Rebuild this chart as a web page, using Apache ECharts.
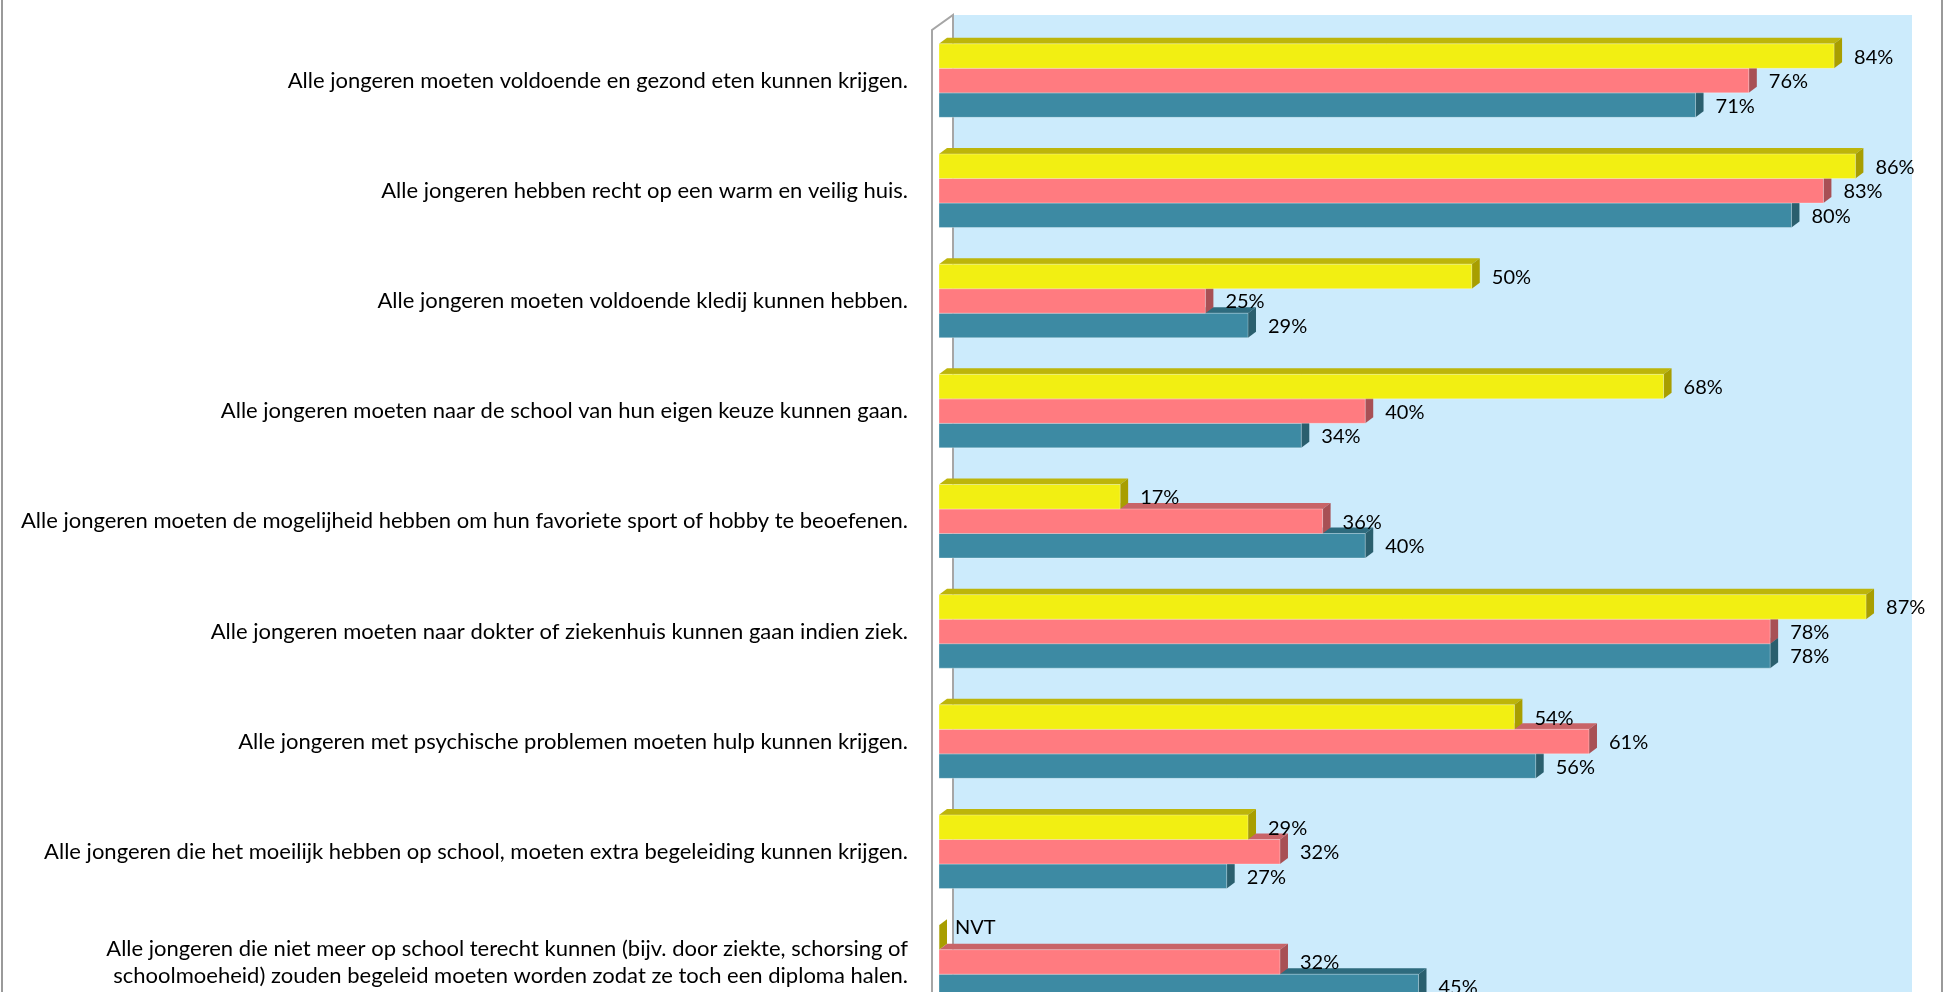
<!DOCTYPE html>
<html>
<head>
<meta charset="utf-8">
<script src="https://cdn.jsdelivr.net/npm/echarts@6/dist/echarts.min.js"></script>
<style>
  html, body { margin: 0; padding: 0; background: #fff; overflow: hidden; }
  #main { width: 1946px; height: 1017px; }
</style>
</head>
<body>
<div id="main"></div>
<script>
const categories = [
  'Alle jongeren moeten voldoende en gezond eten kunnen krijgen.',
  'Alle jongeren hebben recht op een warm en veilig huis.',
  'Alle jongeren moeten voldoende kledij kunnen hebben.',
  'Alle jongeren moeten naar de school van hun eigen keuze kunnen gaan.',
  'Alle jongeren moeten de mogelijheid hebben om hun favoriete sport of hobby te beoefenen.',
  'Alle jongeren moeten naar dokter of ziekenhuis kunnen gaan indien ziek.',
  'Alle jongeren met psychische problemen moeten hulp kunnen krijgen.',
  'Alle jongeren die het moeilijk hebben op school, moeten extra begeleiding kunnen krijgen.',
  'Alle jongeren die niet meer op school terecht kunnen (bijv. door ziekte, schorsing of\nschoolmoeheid) zouden begeleid moeten worden zodat ze toch een diploma halen.'
]
// null = NVT (niet van toepassing)
const geel = [84, 86, 50, 68, 17, 87, 54, 29, null]
const roze = [76, 83, 25, 40, 36, 78, 61, 32, 32]
const blauw = [71, 80, 29, 34, 40, 78, 56, 27, 45]

const FONT = 'Lato, "Open Sans", sans-serif'
const gridLeft = 939
const gridRight = 48
const gridTop = 25.5
const depthX = 8
const depthY = 6

function bar3d(values, slot, front, top, side) {
  return function (params, api) {
    const cat = api.value(1)
    const v = api.value(0)
    const start = api.coord([0, cat])
    const end = api.coord([v, cat])
    const band = api.size([0, 1])[1]
    const h = band * 0.2225
    const x0 = start[0]
    const x1 = end[0]
    const y0 = start[1] - 1.5 * h + slot * h
    const y1 = y0 + h
    const raw = values[params.dataIndex]
    const text = raw == null ? 'NVT' : raw + '%'
    return {
      type: 'group',
      children: [
        {
          type: 'polygon',
          shape: { points: [[x0, y0], [x0 + depthX, y0 - depthY], [x1 + depthX, y0 - depthY], [x1, y0]] },
          style: { fill: top }
        },
        {
          type: 'polygon',
          shape: { points: [[x1, y0], [x1 + depthX, y0 - depthY], [x1 + depthX, y1 - depthY], [x1, y1]] },
          style: { fill: side }
        },
        {
          type: 'rect',
          shape: { x: x0, y: y0, width: x1 - x0, height: h },
          style: { fill: front, stroke: 'rgba(255,255,255,0.3)', lineWidth: 1 }
        },
        {
          type: 'text',
          style: {
            text: text,
            x: raw == null ? x1 + 16 : x1 + 20,
            y: (y0 + y1) / 2 + (raw == null ? -10 : 1),
            fill: '#000',
            font: '20px ' + FONT,
            verticalAlign: 'middle'
          }
        }
      ]
    }
  }
}

const chartDom = document.getElementById('main')
const myChart = echarts.init(chartDom)
const W = 1946
const plotLeft = gridLeft + 14
const plotRight = W - gridRight + 14

var option = {
  backgroundColor: '#fff',
  animation: false,
  graphic: [
    {
      type: 'rect',
      z: -10,
      shape: { x: 2, y: -10, width: 1940, height: 1040 },
      style: { fill: '#fff', stroke: '#9a9a9a', lineWidth: 2 }
    },
    {
      type: 'rect',
      z: -5,
      shape: { x: plotLeft, y: 15, width: plotRight - plotLeft, height: 1010 },
      style: { fill: '#CCEBFC' }
    },
    {
      type: 'polyline',
      z: -4,
      shape: { points: [[932, 1020], [932, 30], [953, 15], [953, 1020]] },
      style: { stroke: '#a6a6a6', lineWidth: 2, fill: null }
    }
  ],
  grid: {
    left: gridLeft,
    right: gridRight,
    top: gridTop,
    bottom: 0,
    containLabel: false
  },
  xAxis: {
    type: 'value',
    min: 0,
    max: 90,
    show: false
  },
  yAxis: {
    type: 'category',
    inverse: true,
    data: categories,
    axisLine: { show: false },
    axisTick: { show: false },
    axisLabel: {
      margin: 31,
      color: '#000',
      fontFamily: FONT,
      fontSize: 22,
      lineHeight: 27,
      padding: [22, 0, 0, 0]
    }
  },
  series: [
    {
      name: 'geel',
      type: 'custom',
      z: 4,
      encode: { x: 0, y: 1 },
      renderItem: bar3d(geel, 0, '#F2EF12', '#BDB50A', '#A89E00'),
      data: geel.map((v, i) => [v == null ? 0 : v, i])
    },
    {
      name: 'roze',
      type: 'custom',
      z: 3,
      encode: { x: 0, y: 1 },
      renderItem: bar3d(roze, 1, '#FF7B80', '#C86468', '#A85055'),
      data: roze.map((v, i) => [v, i])
    },
    {
      name: 'blauw',
      type: 'custom',
      z: 2,
      encode: { x: 0, y: 1 },
      renderItem: bar3d(blauw, 2, '#3D8AA3', '#2E6B7E', '#2A5F6E'),
      data: blauw.map((v, i) => [v, i])
    }
  ]
}
option && myChart.setOption(option)
</script>
</body>
</html>
